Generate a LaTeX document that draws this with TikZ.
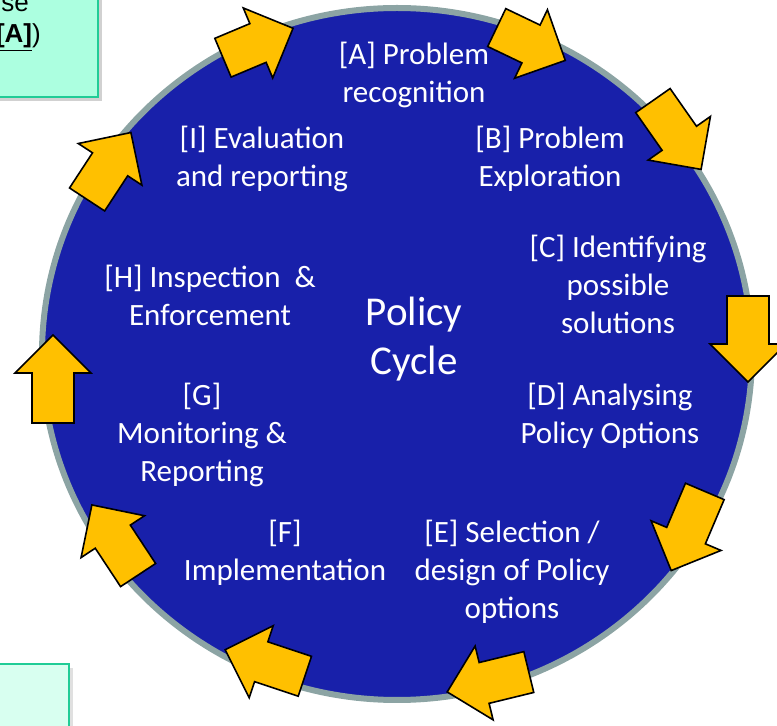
\documentclass[tikz,border=0pt]{standalone}
\usepackage{fontspec}
\setmainfont{Carlito}
\newfontfamily\boxfont{Liberation Sans}
\usetikzlibrary{shapes.geometric}
\definecolor{cycleblue}{RGB}{24,32,170}
\definecolor{rimgrey}{RGB}{140,164,164}
\definecolor{arrowgold}{RGB}{255,192,0}
\definecolor{mintA}{RGB}{172,255,224}
\definecolor{mintB}{RGB}{216,255,240}
\definecolor{mintedge}{RGB}{32,204,150}
\tikzset{
  lbl/.style={text=white, align=center, font=\fontsize{31}{38}\selectfont, inner sep=0pt},
  boxtext/.style={font=\boxfont\fontsize{26}{30}\selectfont, anchor=base east, inner sep=0pt},
  arrowstyle/.style={fill=arrowgold, draw=black, line width=1.6pt, line join=miter},
  pics/barrow/.style={code={
    \draw[arrowstyle] (-#1/2,-21) -- (#1/2-38,-21) -- (#1/2-38,-38) -- (#1/2,0)
      -- (#1/2-38,38) -- (#1/2-38,21) -- (-#1/2,21) -- cycle;}},
  notebox/.style={draw=mintedge, line width=1.5pt},
}
\begin{document}
\begin{tikzpicture}[x=1pt,y=1pt]
\useasboundingbox (0,0) rectangle (777,726);
\clip (0,0) rectangle (777,726);
% side boxes
\fill[black!18] (-10,625) rectangle (102,740);
\fill[mintA] (-10,629) rectangle (98,740);
\draw[notebox] (-10,629) rectangle (98,740);
\node[boxtext] (tse) at (29,714) {se};
\node[boxtext] (tA) at (41,683) {\underline{\textbf{[A]}})};
\fill[black!12] (-10,-10) rectangle (73,58);
\fill[mintB] (-10,-10) rectangle (69,62);
\draw[notebox] (-10,-10) rectangle (69,62);
% circle
\node[ellipse, minimum width=710, minimum height=692, fill=cycleblue, draw=rimgrey, line width=6pt, inner sep=0pt] (cyc) at (397,372) {};
% arrows
\pic[rotate=22.8] at (258,683) {barrow=76};
\pic[rotate=-25.6] at (531,682) {barrow=76};
\pic[rotate=-55] at (677,591) {barrow=84};
\pic[rotate=-90] at (748,387) {barrow=86};
\pic[rotate=-113] at (688,195) {barrow=86};
\pic[rotate=193.7] at (488,44) {barrow=84};
\pic[rotate=161.6] at (265,63) {barrow=84};
\pic[rotate=123.4] at (115,186) {barrow=84};
\pic[rotate=90] at (53,347) {barrow=88};
\pic[rotate=56.8] at (109,560) {barrow=80};
% labels
\node[lbl] (la) at (414,651) {[A] Problem\\recognition};
\node[lbl] (li) at (262,567) {[I] Evaluation\\and reporting};
\node[lbl] (lb) at (550,567) {[B] Problem\\Exploration};
\node[lbl] (lc) at (618,442) {[C] Identifying\\possible\\solutions};
\node[lbl] (lh) at (210,431) {[H] Inspection\ \ \&\\Enforcement};
\node[lbl, font=\fontsize{41}{49}\selectfont] (lp) at (414,387) {Policy\\Cycle};
\node[lbl] (ld) at (610,310) {[D] Analysing\\Policy Options};
\node[lbl] (lg) at (202,291) {[G]\\Monitoring \&\\Reporting};
\node[lbl] (lf) at (285,173) {[F]\\Implementation};
\node[lbl] (le) at (512,154) {[E] Selection /\\design of Policy\\options};
\end{tikzpicture}
\end{document}
